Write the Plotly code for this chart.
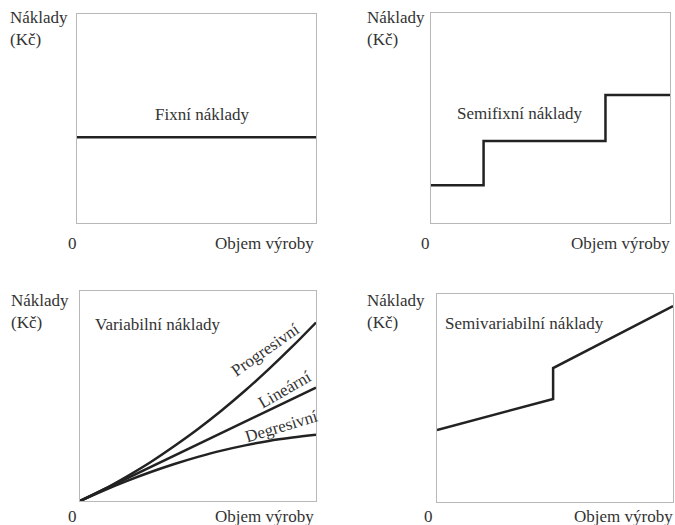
import plotly.graph_objects as go

# ---- data (axis units 0..10) ----
fixed_x = [0, 10]
fixed_y = [4.1, 4.1]

semifixed_x = [0, 2.2, 7.3, 10]
semifixed_y = [1.8, 3.9, 6.1, 6.1]

var_x = [0, 1, 2, 3, 4, 5, 6, 7, 8, 9, 10]
progressive_y = [0, 0.55, 1.18, 1.86, 2.62, 3.43, 4.31, 5.26, 6.28, 7.36, 8.5]
linear_y = [0, 0.54, 1.08, 1.62, 2.16, 2.7, 3.24, 3.78, 4.32, 4.86, 5.4]
degressive_y = [0, 0.5, 0.96, 1.38, 1.76, 2.1, 2.4, 2.65, 2.86, 3.02, 3.15]

semivar_x = [0, 4.92, 4.92, 10]
semivar_y = [3.46, 4.95, 6.44, 9.42]

y_title = "Náklady<br>(Kč)"
x_title = "Objem výroby"
zero_label = "0"
panel_titles = ["Fixní náklady", "Semifixní náklady", "Variabilní náklady", "Semivariabilní náklady"]
curve_labels = ["Progresivní", "Lineární", "Degresivní"]

W, H = 675, 525
FONT = "Liberation Serif, Times New Roman, serif"
LINE = "#222222"
TXT = "#333333"
BORDER = "#b8b8b8"
FS = 17

def px(x):
    return x / W

def py(y):
    return 1 - y / H

# panel boxes in pixels: (left, right, top, bottom)
boxes = [(77, 316, 14, 223), (431, 670, 13, 223), (80, 316, 291, 501), (437, 673, 294, 502)]

fig = go.Figure()

series = [
    (1, fixed_x, fixed_y, "linear"),
    (2, semifixed_x, semifixed_y, "hv"),
    (3, var_x, progressive_y, "spline"),
    (3, var_x, linear_y, "linear"),
    (3, var_x, degressive_y, "spline"),
    (4, semivar_x, semivar_y, "linear"),
]
for k, xs, ys, shape in series:
    suf = "" if k == 1 else str(k)
    fig.add_trace(go.Scatter(x=xs, y=ys, mode="lines", xaxis="x" + suf, yaxis="y" + suf,
                             line=dict(color=LINE, width=2.5, shape=shape), showlegend=False,
                             hoverinfo="skip"))

layout = dict(width=W, height=H, margin=dict(l=0, r=0, t=0, b=0),
              paper_bgcolor="white", plot_bgcolor="white", showlegend=False)
for i, (l, r, t, b) in enumerate(boxes):
    k = i + 1
    suf = "" if k == 1 else str(k)
    ax = dict(range=[0, 10], showgrid=False, zeroline=False, showticklabels=False, ticks="",
              showline=True, mirror=True, linecolor=BORDER, linewidth=1, fixedrange=True)
    layout["xaxis" + suf] = dict(ax, domain=[px(l), px(r)], anchor="y" + suf)
    layout["yaxis" + suf] = dict(ax, domain=[py(b), py(t)], anchor="x" + suf)
fig.update_layout(**layout)

ann = []
def add(text, x, y, xanchor="center", size=FS, angle=0, xref="paper", yref="paper", align="left"):
    ann.append(dict(text=text, x=x, y=y, xref=xref, yref=yref, xanchor=xanchor, yanchor="middle",
                    showarrow=False, textangle=angle, align=align,
                    font=dict(family=FONT, size=size, color=TXT)))

# axis titles
for (lx, ty), (zx, zy), (ox, oy) in [
    ((8, 29), (72, 243), (316, 243)),
    ((365, 29), (425, 243), (672, 243)),
    ((9, 311), (72, 516), (316, 516)),
    ((365, 311), (428, 516), (675, 516)),
]:
    add(y_title, px(lx), py(ty), xanchor="left")
    add(zero_label, px(zx), py(zy))
    add(x_title, px(ox), py(oy), xanchor="right")

# panel titles
add(panel_titles[0], 5.23, 5.2, xref="x", yref="y")
add(panel_titles[1], 3.72, 5.2, xref="x2", yref="y2")
add(panel_titles[2], 3.3, 8.4, xref="x3", yref="y3")
add(panel_titles[3], 0.25, 8.6, xanchor="left", xref="x4", yref="y4")

# curve labels
add(curve_labels[0], 7.88, 7.2, angle=-35, xref="x3", yref="y3")
add(curve_labels[1], 8.69, 5.3, angle=-30, xref="x3", yref="y3")
add(curve_labels[2], 8.52, 3.55, angle=-17, xref="x3", yref="y3")

fig.update_layout(annotations=ann)
fig.write_html("out.html", config={"displayModeBar": False},
               post_script="document.body.style.margin='0';document.body.style.padding='0';")
